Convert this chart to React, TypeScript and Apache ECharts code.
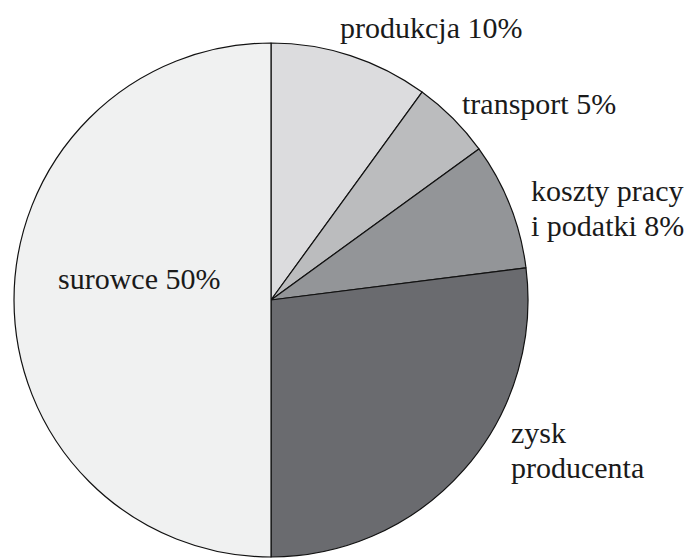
import React, { useEffect, useRef } from "react";
import * as echarts from "echarts";

const categories = ["produkcja", "transport", "koszty pracy i podatki", "zysk producenta", "surowce"];
const labels = ["produkcja 10%", "transport 5%", "koszty pracy\ni podatki 8%", "zysk\nproducenta", "surowce 50%"];
const values = [10, 5, 8, 27, 50];
const colors = ["#dcdcde", "#bbbcbe", "#939598", "#6a6b6f", "#f0f1f1"];
const labelPos: [number, number][] = [
  [340, 27],
  [462, 103],
  [531, 207.5],
  [511, 449.5],
  [58, 278],
];

const FONT = "Liberation Serif";

export default function App() {
  const ref = useRef<HTMLDivElement>(null);
  useEffect(() => {
    if (!ref.current) return;
    const chart = echarts.init(ref.current, null, { renderer: "svg" });
    chart.setOption({
      animation: false,
      backgroundColor: "#ffffff",
      textStyle: { fontFamily: FONT },
      series: [
        {
          type: "pie",
          center: [271, 300],
          radius: 257,
          startAngle: 90,
          clockwise: true,
          avoidLabelOverlap: false,
          itemStyle: { borderColor: "#111111", borderWidth: 1.2 },
          emphasis: { disabled: true },
          label: {
            show: true,
            position: "outside",
            fontFamily: FONT,
            fontSize: 30,
            lineHeight: 35,
            color: "#1a1a1a",
            formatter: (p: any) => labels[p.dataIndex],
          },
          labelLine: { show: false },
          labelLayout: (p: any) => ({
            x: labelPos[p.dataIndex][0],
            y: labelPos[p.dataIndex][1],
            align: "left",
            verticalAlign: "middle",
          }),
          data: categories.map((c, i) => ({
            name: c,
            value: values[i],
            itemStyle: { color: colors[i] },
          })),
        },
      ],
    });
    return () => chart.dispose();
  }, []);
  return (
    <div
      ref={ref}
      style={{ position: "fixed", left: 0, top: 0, width: 691, height: 558 }}
    />
  );
}
